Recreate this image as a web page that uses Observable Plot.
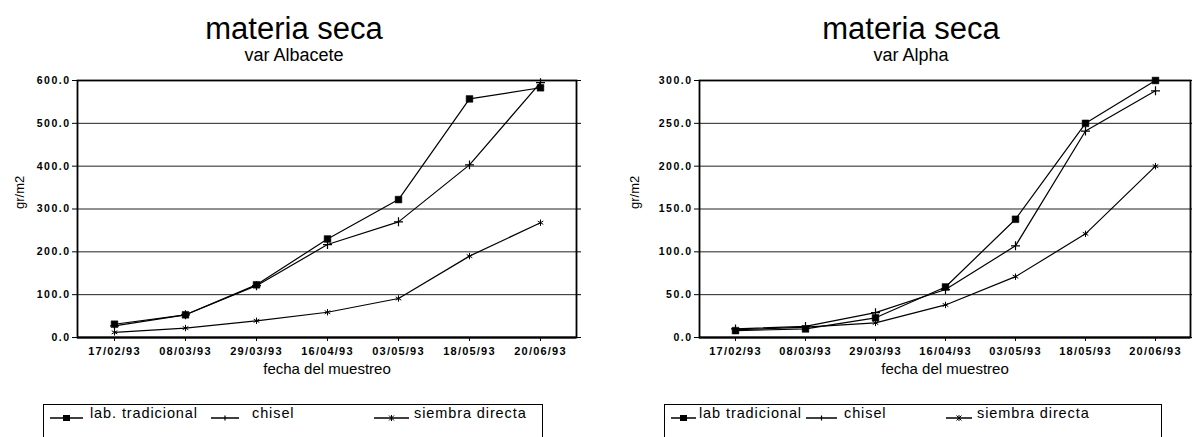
<!DOCTYPE html>
<html>
<head>
<meta charset="utf-8">
<script src="https://cdn.jsdelivr.net/npm/d3@7"></script>
<script src="https://cdn.jsdelivr.net/npm/@observablehq/plot@0.6"></script>
<style>
  html, body { margin: 0; padding: 0; background: #fff; width: 1192px; height: 437px; overflow: hidden; }
  #root { position: relative; width: 1192px; height: 437px; font-family: "Liberation Sans", Arial, Helvetica, sans-serif; color: #000; }
  .panel { position: absolute; top: 0; }
  .panel svg { display: block; overflow: visible; }
  .legend { position: absolute; top: 404px; height: 60px; border: 1.5px solid #000; box-sizing: border-box; background: #fff; }
  .legend .sym { position: absolute; top: 4px; }
  .legend .lab { position: absolute; top: 1px; font-size: 14.5px; line-height: 14px; letter-spacing: 0.9px; white-space: nowrap; }
</style>
</head>
<body>
<div id="root"></div>
<script>
// ---- data ----
const fechas = ["17/02/93", "08/03/93", "29/03/93", "16/04/93", "03/05/93", "18/05/93", "20/06/93"];
const seriesAlbacete = ["lab. tradicional", "chisel", "siembra directa"];
const seriesAlpha = ["lab tradicional", "chisel", "siembra directa"];

// var Albacete (gr/m2)
const albaceteLab = [31, 53, 123, 230, 322, 557, 583];
const albaceteChisel = [27, 53, 121, 217, 270, 403, 595];
const albaceteSiembra = [12, 22, 39, 59, 91, 190, 268];
const albaceteTicks = [0, 100, 200, 300, 400, 500, 600];

// var Alpha (gr/m2)
const alphaLab = [8, 10, 23, 59, 138, 250, 300];
const alphaChisel = [10, 13, 29, 56, 107, 241, 288];
const alphaSiembra = [9, 12, 17, 38, 71, 121, 200];
const alphaTicks = [0, 50, 100, 150, 200, 250, 300];

const titleText = "materia seca";
const xLabel = "fecha del muestreo";
const yLabel = "gr/m2";

function buildRows(names, arrays) {
  const rows = [];
  names.forEach((s, i) => arrays[i].forEach((v, j) => rows.push({serie: s, fecha: fechas[j], v})));
  return rows;
}

function makeChart(o) {
  const rows = buildRows(o.names, o.values);
  const fmt = d3.format(".1f");
  const svg = Plot.plot({
    width: o.width,
    height: 437,
    marginTop: 80,
    marginBottom: 100,
    marginLeft: o.marginLeft,
    marginRight: o.marginRight,
    style: {fontFamily: '"Liberation Sans", Arial, Helvetica, sans-serif', color: "#000", background: "transparent", overflow: "visible"},
    x: {type: "point", domain: fechas, padding: 0.5, label: null},
    y: {domain: [0, o.ticks[o.ticks.length - 1]], label: null},
    marks: [
      Plot.ruleY(o.ticks, {stroke: "#222", strokeWidth: 1}),
      Plot.frame({stroke: "#000", strokeWidth: 1.8}),
      Plot.ruleY([0], {stroke: "#000", strokeWidth: 2.2}),
      Plot.axisX({tickSize: 4, tickPadding: 6, fontWeight: "bold", label: null}),
      Plot.axisY({ticks: o.ticks, tickFormat: fmt, tickSize: 5, tickPadding: 2, fontWeight: "bold", label: null}),
      Plot.axisY({anchor: "right", ticks: o.ticks, tickFormat: () => "", tickSize: 4, label: null}),
      Plot.line(rows, {x: "fecha", y: "v", z: "serie", stroke: "#000", strokeWidth: 1.2}),
      Plot.dot(rows, {filter: d => d.serie === o.names[0], x: "fecha", y: "v", symbol: "square", r: 3.8, fill: "#000", stroke: "#000", strokeWidth: 0.5}),
      Plot.dot(rows, {filter: d => d.serie === o.names[1], x: "fecha", y: "v", symbol: "plus", r: 3, fill: "none", stroke: "#000", strokeWidth: 1.2}),
      Plot.dot(rows, {filter: d => d.serie === o.names[2], x: "fecha", y: "v", symbol: "asterisk", r: 3, fill: "none", stroke: "#000", strokeWidth: 1}),
      Plot.text([titleText], {text: d => d, frameAnchor: "top", dx: o.titleDx, dy: -64, fontSize: 31, fill: "#000", ariaLabel: "ttl"}),
      Plot.text([o.subtitle], {text: d => d, frameAnchor: "top", dx: o.titleDx, dy: -32, fontSize: 18, fill: "#000", ariaLabel: "sub"}),
      Plot.text([xLabel], {text: d => d, frameAnchor: "bottom", dy: 36, fontSize: 15, fill: "#000", ariaLabel: "xl"}),
      Plot.text([yLabel], {text: d => d, frameAnchor: "left", dx: o.ylabelDx, rotate: -90, fontSize: 13, fill: "#000", ariaLabel: "yl"})
    ]
  });
  const s = d3.select(svg);
  s.selectAll('g[aria-label="x-axis tick label"]').attr("letter-spacing", "1.2px").attr("font-size", "11px");
  s.selectAll('g[aria-label="x-axis tick label"] text').attr("font-size", "11px");
  s.selectAll('g[aria-label="y-axis tick label"]').attr("letter-spacing", "1.5px").attr("font-size", "10.5px");
  s.selectAll('g[aria-label="y-axis tick label"] text').attr("font-size", "10.5px");
  s.selectAll('g[aria-label="ttl"]').attr("letter-spacing", "0.8px");
  s.selectAll('g[aria-label="sub"]').attr("letter-spacing", "1.3px");
  s.selectAll('g[aria-label="xl"]').attr("letter-spacing", "0.5px");
  s.selectAll('g[aria-label="yl"]').attr("letter-spacing", "2px");
  return svg;
}

function symbolSvg(kind, w) {
  const cy = 5, cx = w / 2;
  let m = "";
  if (kind === "square") m = `<rect x="${cx - 3.5}" y="${cy - 3}" width="7" height="6" fill="#000"/>`;
  if (kind === "plus") m = `<line x1="${cx}" y1="${cy - 2.5}" x2="${cx}" y2="${cy + 2.5}" stroke="#000" stroke-width="1.2"/>`;
  if (kind === "asterisk") m = `<path d="M${cx - 2.5},${cy - 2.5}L${cx + 2.5},${cy + 2.5}M${cx - 2.5},${cy + 2.5}L${cx + 2.5},${cy - 2.5}M${cx},${cy - 3}L${cx},${cy + 3}" stroke="#000" stroke-width="1"/>`;
  return `<svg width="${w}" height="10"><line x1="0" y1="${cy}" x2="${w}" y2="${cy}" stroke="#000" stroke-width="1.5"/>${m}</svg>`;
}

function makeLegend(parent, o) {
  const box = document.createElement("div");
  box.className = "legend";
  box.style.left = o.left + "px";
  box.style.width = o.width + "px";
  const kinds = ["square", "plus", "asterisk"];
  o.names.forEach((name, i) => {
    const sy = document.createElement("div");
    sy.className = "sym";
    sy.style.left = o.symX[i] + "px";
    sy.innerHTML = symbolSvg(kinds[i], o.symW[i]);
    box.appendChild(sy);
    const lb = document.createElement("div");
    lb.className = "lab";
    lb.style.left = o.txtX[i] + "px";
    lb.textContent = name;
    box.appendChild(lb);
  });
  parent.appendChild(box);
}

const root = document.getElementById("root");

const p1 = document.createElement("div");
p1.className = "panel"; p1.style.left = "0px";
p1.appendChild(makeChart({
  names: seriesAlbacete,
  values: [albaceteLab, albaceteChisel, albaceteSiembra],
  ticks: albaceteTicks,
  subtitle: "var Albacete",
  width: 596, marginLeft: 77, marginRight: 20,
  titleDx: -33, ylabelDx: -58
}));
root.appendChild(p1);

const p2 = document.createElement("div");
p2.className = "panel"; p2.style.left = "600px";
p2.appendChild(makeChart({
  names: seriesAlpha,
  values: [alphaLab, alphaChisel, alphaSiembra],
  ticks: alphaTicks,
  subtitle: "var Alpha",
  width: 592, marginLeft: 99, marginRight: 2,
  titleDx: -34, ylabelDx: -65
}));
root.appendChild(p2);

makeLegend(root, {names: seriesAlbacete, left: 43, width: 500, symX: [6, 167, 330], symW: [33, 28, 35], txtX: [46, 208, 370]});
makeLegend(root, {names: seriesAlpha, left: 664, width: 498, symX: [6, 141, 281], symW: [25, 31, 26], txtX: [34, 179, 312]});
</script>
</body>
</html>
